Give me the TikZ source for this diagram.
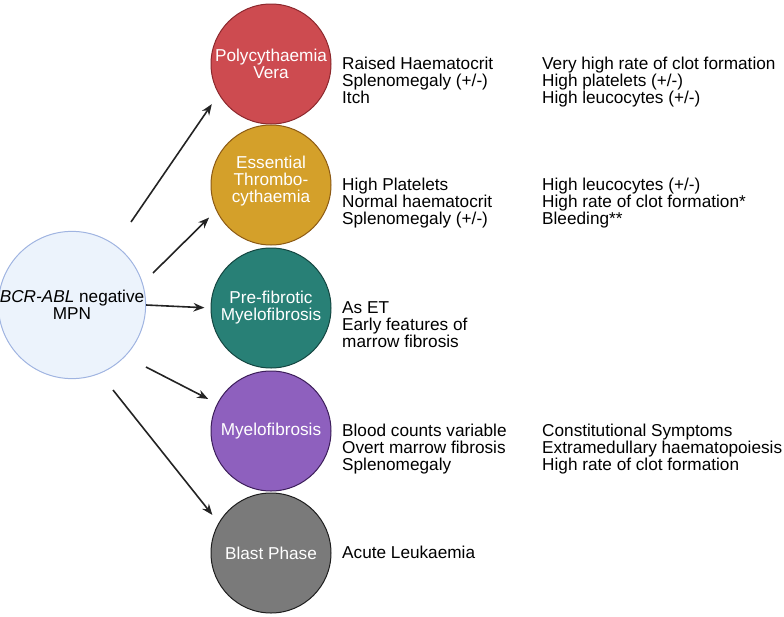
\documentclass[tikz,border=0pt]{standalone}
\usepackage{fontspec}
\setmainfont{Liberation Sans}
\usepackage{xcolor}
\usetikzlibrary{arrows.meta, positioning}
\definecolor{rougePV}{RGB}{205, 75, 80}
\definecolor{rougeBord}{RGB}{140, 40, 45}
\definecolor{orET}{RGB}{212, 160, 42}
\definecolor{orBord}{RGB}{140, 90, 20}
\definecolor{vertPF}{RGB}{40, 128, 118}
\definecolor{vertBord}{RGB}{20, 70, 65}
\definecolor{violetMF}{RGB}{142, 96, 190}
\definecolor{violetBord}{RGB}{60, 30, 90}
\definecolor{griBP}{RGB}{122, 122, 122}
\definecolor{griBord}{RGB}{30, 30, 30}
\definecolor{bleuClair}{RGB}{236, 243, 252}
\definecolor{bleuBord}{RGB}{160, 180, 225}
\definecolor{noirFleche}{RGB}{35, 35, 35}
\begin{document}
\begin{tikzpicture}[x=1pt, y=-1pt,
  phase/.style={circle, minimum size=120pt, inner sep=0pt, line width=1pt,
    align=center, text=white, font=\fontsize{17.2}{17}\selectfont},
  origin/.style={circle, minimum size=143pt, inner sep=0pt, line width=1pt,
    draw=bleuBord, fill=bleuClair, align=center,
    font=\fontsize{17.2}{17}\selectfont},
  txt/.style={anchor=north west, align=left, inner sep=0pt,
    font=\fontsize{17.2}{17}\selectfont},
  arr/.style={-{Stealth[length=11pt, width=8.5pt]}, line width=1.6pt,
    draw=noirFleche},
]
\useasboundingbox (0,0) rectangle (784,616);
% circles
\node[origin] (mpn) at (72, 305) {\textit{BCR-ABL} negative\\MPN};
\node[phase, draw=rougeBord, fill=rougePV] (pv) at (271, 64)
  {Polycythaemia\\Vera};
\node[phase, draw=orBord, fill=orET] (et) at (271, 185)
  {\\[-12pt]Essential\\Thrombo-\\cythaemia};
\node[phase, draw=vertBord, fill=vertPF] (pf) at (271, 308)
  {Pre-fibrotic\\Myelofibrosis};
\node[phase, draw=violetBord, fill=violetMF] (mf) at (271, 431)
  {Myelofibrosis};
\node[phase, draw=griBord, fill=griBP] (bp) at (271, 553)
  {Blast Phase};
% features
\node[txt] (pvA) at (342, 57)
  {Raised Haematocrit\\Splenomegaly (+/-)\\Itch};
\node[txt] (pvB) at (542, 57)
  {Very high rate of clot formation\\High platelets (+/-)\\High leucocytes (+/-)};
\node[txt] (etA) at (342, 178)
  {High Platelets\\Normal haematocrit\\Splenomegaly (+/-)};
\node[txt] (etB) at (542, 178)
  {High leucocytes (+/-)\\High rate of clot formation*\\Bleeding**};
\node[txt] (pfA) at (342, 301)
  {As ET\\Early features of\\marrow fibrosis};
\node[txt] (mfA) at (342, 424)
  {Blood counts variable\\Overt marrow fibrosis\\Splenomegaly};
\node[txt] (mfB) at (542, 424)
  {Constitutional Symptoms\\Extramedullary haematopoiesis\\High rate of clot formation};
\node[txt] (bpA) at (342, 546) {Acute Leukaemia};
% arrows
\coordinate (d1) at (131, 222);
\coordinate (d2) at (153, 273);
\coordinate (d4) at (146, 367);
\coordinate (d5) at (113, 390);
\draw[arr, shorten >=12pt] (d1) -- (pv.210);
\draw[arr, shorten >=10pt] (d2) -- (et.205);
\draw[arr, shorten >=6pt]  (mpn.east) -- (pf.west);
\draw[arr, shorten >=10pt] (d4) -- (mf.153);
\draw[arr, shorten >=10pt] (d5) -- (bp.150);
\end{tikzpicture}
\end{document}
